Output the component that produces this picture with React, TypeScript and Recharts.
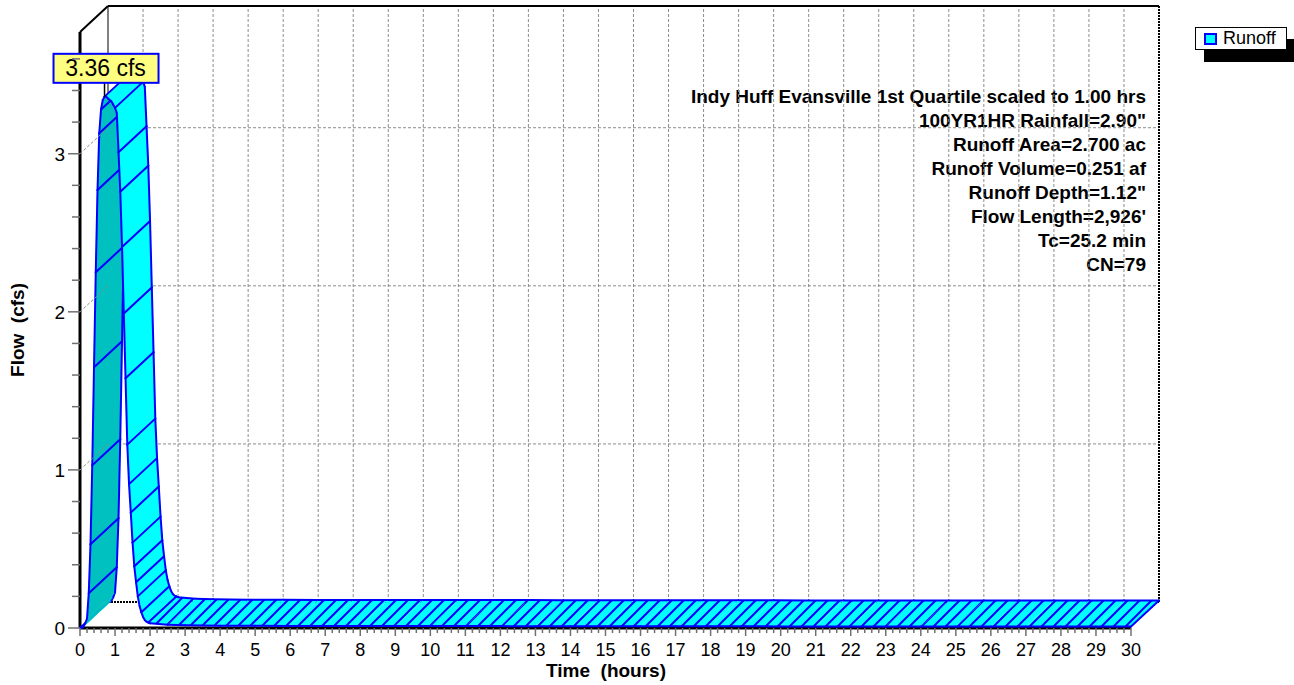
import React from "react";
import {
  ComposedChart,
  Customized,
  Legend,
  ReferenceDot,
  ReferenceLine,
  Scatter,
  XAxis,
  YAxis,
} from "recharts";

// hydrograph (hours / cfs)
const hours = [
  0, 0.05, 0.1, 0.15, 0.2, 0.25, 0.3, 0.35, 0.4, 0.45, 0.5, 0.55, 0.6, 0.65,
  0.7, 0.75, 0.8, 0.85, 0.9, 0.95, 1.0, 1.05, 1.1, 1.15, 1.2, 1.25, 1.3, 1.35,
  1.4, 1.45, 1.5, 1.55, 1.6, 1.65, 1.7, 1.75, 1.8, 1.85, 1.9, 1.95, 2.0, 2.5,
  3, 4, 5, 6, 7, 8, 9, 10, 11, 12, 13, 14, 15, 16, 17, 18, 19, 20, 21, 22, 23,
  24, 25, 26, 27, 28, 29, 30,
];
const runoffCfs = [
  0, 0, 0.01, 0.03, 0.06, 0.22, 0.53, 1.03, 1.65, 2.25, 2.77, 3.13, 3.28, 3.34,
  3.36, 3.36, 3.35, 3.34, 3.33, 3.31, 3.29, 3.26, 3.01, 2.76, 2.41, 1.99, 1.58,
  1.16, 0.91, 0.73, 0.54, 0.39, 0.29, 0.2, 0.14, 0.1, 0.07, 0.05, 0.04, 0.035,
  0.03, 0.02, 0.017, 0.015, 0.014, 0.013, 0.013, 0.012, 0.012, 0.012, 0.012,
  0.012, 0.011, 0.011, 0.011, 0.011, 0.011, 0.011, 0.011, 0.01, 0.01, 0.01,
  0.01, 0.01, 0.01, 0.01, 0.01, 0.01, 0.01, 0.01,
];
const hydrograph = hours.map((t, i) => ({ t, q: runoffCfs[i] }));

const notes = [
  "Indy Huff Evansville 1st Quartile scaled to 1.00 hrs",
  '100YR1HR Rainfall=2.90"',
  "Runoff Area=2.700 ac",
  "Runoff Volume=0.251 af",
  'Runoff Depth=1.12"',
  "Flow Length=2,926'",
  "Tc=25.2 min",
  "CN=79",
];

const T_MAX = 30;
const Y_MAX = 3.77;
const xTicks = Array.from({ length: 151 }, (_, i) => +(i * 0.2).toFixed(1));
const yTicks = Array.from({ length: 19 }, (_, i) => +(i * 0.2).toFixed(1));
const hourLines = Array.from({ length: 29 }, (_, i) => i + 1);
const flowLines = [1, 2, 3];

const peak = hydrograph.reduce((a, b) => (b.q > a.q ? b : a));

// oblique depth of the 3d box, in pixels
const DX = 28;
const DY = -26;

const FONT = "'Liberation Sans', Arial, sans-serif";
const CYAN = "#00FFFF";
const TEAL = "#00C0C0";
const BLUE = "#0000FF";
const GRID = "#8c8c8c";

const isWhole = (v: number) => Math.abs(v - Math.round(v)) < 1e-6;

function TimeTick({ x, y, payload }: any) {
  const major = isWhole(payload.value);
  return (
    <g>
      <line x1={x} y1={y} x2={x} y2={y + (major ? 8 : 5)} stroke="#707070" strokeWidth={1.5} />
      {major && (
        <text x={x} y={y + 28} textAnchor="middle" fontSize={18} fontFamily={FONT} fill="#000">
          {payload.value}
        </text>
      )}
    </g>
  );
}

function FlowTick({ x, y, payload }: any) {
  const major = isWhole(payload.value);
  return (
    <g>
      {major && payload.value > 0 && (
        <line x1={x} y1={y} x2={x + DX} y2={y + DY} stroke={GRID} strokeDasharray="3 2" />
      )}
      <line x1={x - (major ? 12 : 8)} y1={y} x2={x} y2={y} stroke="#707070" strokeWidth={1.5} />
      {major && (
        <text x={x - 15} y={y} dy="0.36em" textAnchor="end" fontSize={19} fontFamily={FONT} fill="#000">
          {payload.value}
        </text>
      )}
    </g>
  );
}

// draws the runoff ribbon: front curve swept back along the depth vector
function renderRibbon(props: any) {
  const pts: { x: number; y: number }[] = props.points || [];
  const n = pts.length;
  const out: React.ReactNode[] = [];
  const hatched = (i: number) => i >= 0 && i < n - 1 && pts[i + 1].x - pts[i].x > 14;
  let lx = -1e9;
  let ly = -1e9;
  for (let i = 0; i < n; i++) {
    const a = pts[i];
    if (i < n - 1) {
      const b = pts[i + 1];
      const sx = b.x - a.x;
      const sy = b.y - a.y;
      const under = sx * DY - sy * DX > 0;
      const fill = hatched(i) ? "url(#runoffHatch)" : under ? TEAL : CYAN;
      out.push(
        <g key={`q${i}`}>
          <polygon
            points={`${a.x},${a.y} ${b.x},${b.y} ${b.x + DX},${b.y + DY} ${a.x + DX},${a.y + DY}`}
            fill={fill}
            stroke={fill === "url(#runoffHatch)" ? "none" : fill}
            strokeWidth={0.6}
          />
          <line x1={a.x} y1={a.y} x2={b.x} y2={b.y} stroke={BLUE} strokeWidth={2} strokeLinecap="round" />
          <line x1={a.x + DX} y1={a.y + DY} x2={b.x + DX} y2={b.y + DY} stroke={BLUE} strokeWidth={2} strokeLinecap="round" />
        </g>
      );
    }
    const far = Math.hypot(a.x - lx, a.y - ly) >= 12;
    if (i === 0 || i === n - 1 || (!hatched(i - 1) && !hatched(i) && far)) {
      out.push(
        <line key={`d${i}`} x1={a.x} y1={a.y} x2={a.x + DX} y2={a.y + DY} stroke={BLUE} strokeWidth={2} strokeLinecap="round" />
      );
      lx = a.x;
      ly = a.y;
    }
  }
  return (
    <g>
      <defs>
        <pattern id="runoffHatch" patternUnits="userSpaceOnUse" width={12} height={12}>
          <rect width={12} height={12} fill={CYAN} />
          <path d="M-3,3 L3,-3 M0,12 L12,0 M9,15 L15,9" stroke={BLUE} strokeWidth={2} />
        </pattern>
      </defs>
      {out}
    </g>
  );
}

function PeakTag({ cx, cy }: any) {
  return (
    <g>
      <line x1={cx} y1={cy} x2={cx} y2={cy - 14} stroke="#000" strokeWidth={1.5} />
      <rect x={cx - 51} y={cy - 43} width={105} height={29} fill="#FFFF80" stroke={BLUE} strokeWidth={2} />
      <text x={cx + 1} y={cy - 21} textAnchor="middle" fontSize={23} fontFamily={FONT} fill="#000">
        {`${peak.q.toFixed(2)} cfs`}
      </text>
    </g>
  );
}

function BoxCorner({ cx, cy }: any) {
  return <line x1={cx} y1={cy} x2={cx + DX} y2={cy + DY} stroke="#000" strokeWidth={2} />;
}

function Notes() {
  return (
    <g fontFamily={FONT} fill="#000">
      {notes.map((s, i) => (
        <text key={s} x={1146} y={102.5 + i * 24.1} textAnchor="end" fontSize={19} fontWeight="bold">
          {s}
        </text>
      ))}
      <text
        transform="translate(24,330) rotate(-90)"
        textAnchor="middle"
        fontSize={19}
        fontWeight="bold"
        style={{ whiteSpace: "pre" }}
      >
        {"Flow  (cfs)"}
      </text>
      <text x={606} y={677} textAnchor="middle" fontSize={19} fontWeight="bold" style={{ whiteSpace: "pre" }}>
        {"Time  (hours)"}
      </text>
    </g>
  );
}

function RunoffKey() {
  return (
    <div
      style={{
        width: 90,
        height: 21,
        border: "1px solid #000",
        background: "#fff",
        boxShadow: "9px 12px 0 #000",
        display: "flex",
        alignItems: "center",
        fontFamily: FONT,
        fontSize: 18,
        color: "#000",
      }}
    >
      <span
        style={{
          display: "inline-block",
          width: 9,
          height: 8,
          background: CYAN,
          border: `2px solid ${BLUE}`,
          marginLeft: 8,
          marginRight: 6,
        }}
      />
      Runoff
    </div>
  );
}

export default function App() {
  return (
    <div style={{ position: "absolute", left: 0, top: 0, background: "#fff" }}>
      <ComposedChart
        width={1294}
        height={685}
        data={hydrograph}
        margin={{ top: 6, right: 135, bottom: 0, left: 10 }}
      >
        <XAxis
          xAxisId="f"
          dataKey="t"
          type="number"
          domain={[0, T_MAX]}
          ticks={xTicks}
          interval={0}
          tick={<TimeTick />}
          tickSize={0}
          tickMargin={0}
          axisLine={false}
          tickLine={false}
          height={57}
          padding={{ left: 0, right: DX }}
        />
        <XAxis
          xAxisId="b"
          dataKey="t"
          type="number"
          domain={[0, T_MAX]}
          padding={{ left: DX, right: 0 }}
          height={0}
          hide
        />
        <YAxis
          yAxisId="f"
          type="number"
          domain={[0, Y_MAX]}
          ticks={yTicks}
          interval={0}
          tick={<FlowTick />}
          tickSize={0}
          tickMargin={0}
          axisLine={false}
          tickLine={false}
          width={70}
          padding={{ top: -DY, bottom: 0 }}
        />
        <YAxis
          yAxisId="b"
          type="number"
          domain={[0, Y_MAX]}
          padding={{ top: 0, bottom: -DY }}
          width={0}
          hide
        />

        {/* keeps the back-wall axes alive; draws nothing */}
        <Scatter
          xAxisId="b"
          yAxisId="b"
          data={hydrograph}
          dataKey="q"
          isAnimationActive={false}
          shape={() => <g />}
          legendType="none"
        />

        {hourLines.map((h) => (
          <ReferenceLine
            key={`h${h}`}
            xAxisId="b"
            yAxisId="b"
            segment={[{ x: h, y: 0 }, { x: h, y: Y_MAX }]}
            stroke={GRID}
            strokeDasharray="3 2"
          />
        ))}
        {flowLines.map((v) => (
          <ReferenceLine
            key={`v${v}`}
            xAxisId="b"
            yAxisId="b"
            segment={[{ x: 0, y: v }, { x: T_MAX, y: v }]}
            stroke={GRID}
            strokeDasharray="3 2"
          />
        ))}
        <ReferenceLine xAxisId="b" yAxisId="b" segment={[{ x: 0, y: 0 }, { x: 0, y: Y_MAX }]} stroke="#000" strokeWidth={1} />
        <ReferenceLine xAxisId="b" yAxisId="b" segment={[{ x: 0, y: Y_MAX }, { x: T_MAX, y: Y_MAX }]} stroke="#000" strokeWidth={2} />
        <ReferenceLine xAxisId="b" yAxisId="b" segment={[{ x: T_MAX, y: 0 }, { x: T_MAX, y: Y_MAX }]} stroke="#000" strokeWidth={2} strokeDasharray="2 1" />
        <ReferenceLine xAxisId="b" yAxisId="b" segment={[{ x: 0, y: 0 }, { x: T_MAX, y: 0 }]} stroke="#000" strokeWidth={2} strokeDasharray="2 1" />
        <ReferenceLine xAxisId="f" yAxisId="f" segment={[{ x: 0, y: 0 }, { x: 0, y: Y_MAX }]} stroke="#000" strokeWidth={3} />
        <ReferenceLine xAxisId="f" yAxisId="f" segment={[{ x: 0, y: 0 }, { x: T_MAX, y: 0 }]} stroke="#000" strokeWidth={3} />
        <ReferenceDot xAxisId="f" yAxisId="f" x={0} y={Y_MAX} ifOverflow="visible" shape={<BoxCorner />} />

        <Scatter
          name="Runoff"
          xAxisId="f"
          yAxisId="f"
          data={hydrograph}
          dataKey="q"
          isAnimationActive={false}
          shape={() => <g />}
          line={renderRibbon}
          lineType="joint"
        />

        <ReferenceDot xAxisId="f" yAxisId="f" x={peak.t} y={peak.q} ifOverflow="visible" shape={<PeakTag />} />
        <Customized component={Notes} />
        <Legend
          layout="vertical"
          align="center"
          verticalAlign="middle"
          content={<RunoffKey />}
          wrapperStyle={{ left: 1195, top: 27, width: "auto", height: "auto" }}
        />
      </ComposedChart>
    </div>
  );
}
